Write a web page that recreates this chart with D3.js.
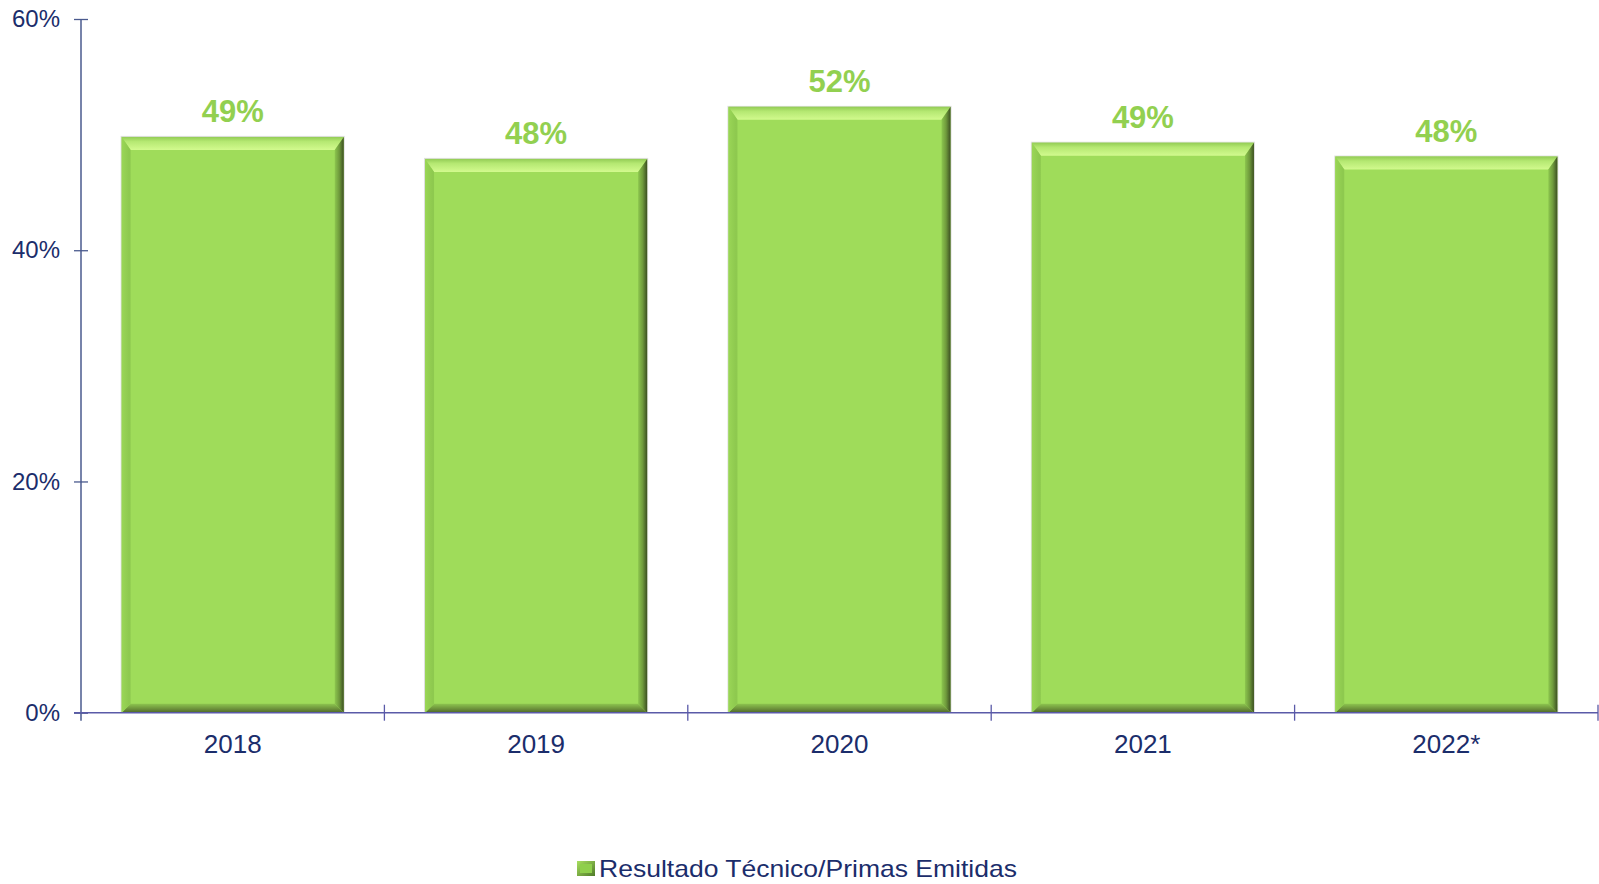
<!DOCTYPE html>
<html>
<head>
<meta charset="utf-8">
<script src="https://cdn.jsdelivr.net/npm/d3@7"></script>
<style>
  html, body { margin: 0; padding: 0; background: #fff; }
  svg { display: block; font-family: "Liberation Sans", Arial, sans-serif; }
</style>
</head>
<body>
<script>
// data
var years = ["2018", "2019", "2020", "2021", "2022*"];
var values = [49.8, 47.9, 52.4, 49.3, 48.1];
var valueLabels = ["49%", "48%", "52%", "49%", "48%"];
var yTicks = [0, 20, 40, 60];
var seriesName = "Resultado Técnico/Primas Emitidas";

var width = 1599, height = 884;
var margin = {top: 19, right: 1, bottom: 171, left: 81};

var svg = d3.select("body").append("svg")
    .attr("width", width)
    .attr("height", height);

var defs = svg.append("defs");

// bevel gradients
function grad(id, x2, y2, stops) {
    var g = defs.append("linearGradient").attr("id", id)
        .attr("x1", 0).attr("y1", 0).attr("x2", x2).attr("y2", y2);
    stops.forEach(function(s) {
        g.append("stop").attr("offset", s[0]).attr("stop-color", s[1]);
    });
}
grad("bevTop", 0, 1, [[0, "#93cc55"], [0.35, "#b5e872"], [1, "#d2fa8e"]]);
grad("bevRight", 1, 0, [[0, "#8cc64e"], [0.5, "#6f9a3c"], [1, "#3c4f22"]]);
grad("bevBottom", 0, 1, [[0, "#8dc54f"], [0.6, "#6b8f3a"], [1, "#4d6628"]]);
grad("bevLeft", 1, 0, [[0, "#9ad656"], [0.8, "#8ec94f"], [1, "#8ec94f"]]);
grad("legSw", 1, 1, [[0, "#a8e060"], [1, "#4f7a28"]]);

var x = d3.scaleBand()
    .domain(years)
    .range([margin.left, width - margin.right])
    .paddingInner(0.268)
    .paddingOuter(0.134);

var y = d3.scaleLinear()
    .domain([0, 60])
    .range([height - margin.bottom - 0.3, margin.top]);

var axisColor = "#5a5aa8";
var textColor = "#1b2d6b";

// bars
var bev = 13, side = 9;
var bar = svg.append("g").selectAll("g")
    .data(years)
    .enter().append("g")
    .attr("transform", function(d) { return "translate(" + x(d) + "," + y(values[years.indexOf(d)]) + ")"; });

bar.each(function(d, i) {
    var g = d3.select(this);
    var w = x.bandwidth();
    var h = y(0) - y(values[i]);
    // soft shadow
    g.append("rect")
        .attr("x", -1).attr("y", -1)
        .attr("width", w + 2).attr("height", h + 1)
        .attr("fill", "#c8c8c8").attr("opacity", 0.6);
    g.append("rect")
        .attr("width", w).attr("height", h)
        .attr("fill", "#9fdc5a");
    g.append("polygon")
        .attr("points", [[0, 0], [w, 0], [w - side, bev], [side, bev]].join(" "))
        .attr("fill", "url(#bevTop)");
    g.append("polygon")
        .attr("points", [[w, 0], [w, h], [w - side, h - side], [w - side, bev]].join(" "))
        .attr("fill", "url(#bevRight)");
    g.append("polygon")
        .attr("points", [[0, h], [w, h], [w - side, h - side], [side, h - side]].join(" "))
        .attr("fill", "url(#bevBottom)");
    g.append("polygon")
        .attr("points", [[0, 0], [side, bev], [side, h - side], [0, h]].join(" "))
        .attr("fill", "url(#bevLeft)");
});

// value labels
svg.append("g").selectAll("text")
    .data(years)
    .enter().append("text")
    .attr("x", function(d) { return x(d) + x.bandwidth() / 2; })
    .attr("y", function(d, i) { return y(values[i]) - 15; })
    .attr("text-anchor", "middle")
    .attr("font-size", 31)
    .attr("font-weight", "bold")
    .attr("fill", "#92d050")
    .text(function(d, i) { return valueLabels[i]; });

// y axis
var yAxis = svg.append("g")
    .attr("transform", "translate(" + margin.left + ",0)")
    .call(d3.axisLeft(y).tickValues(yTicks).tickSize(7).tickPadding(14)
        .tickFormat(function(d) { return d + "%"; }));
yAxis.select(".domain").remove();
yAxis.selectAll(".tick line").attr("x1", 7).attr("stroke", "#4a5a8e").attr("stroke-width", 1.3);
yAxis.selectAll(".tick text")
    .attr("font-size", 24).attr("fill", textColor)
    .attr("font-family", "Liberation Sans, Arial, sans-serif");
yAxis.append("line")
    .attr("x1", 0).attr("x2", 0)
    .attr("y1", y(60)).attr("y2", y(0) + 8)
    .attr("stroke", "#4a5a8e").attr("stroke-width", 1.5);

// x axis
var bounds = years.map(function(d) { return x(d) - x.step() * x.paddingInner() / 2; });
bounds[0] = margin.left;
bounds.push(width - margin.right);
var xAxis = svg.append("g");
xAxis.append("line")
    .attr("x1", margin.left - 7).attr("x2", width - margin.right)
    .attr("y1", y(0)).attr("y2", y(0))
    .attr("stroke", axisColor).attr("stroke-width", 1.5);
xAxis.selectAll(".xt")
    .data(bounds.slice(1))
    .enter().append("line")
    .attr("class", "xt")
    .attr("x1", function(d) { return d; }).attr("x2", function(d) { return d; })
    .attr("y1", y(0) - 8).attr("y2", y(0) + 8)
    .attr("stroke", axisColor).attr("stroke-width", 1.3);
xAxis.selectAll(".xl")
    .data(years)
    .enter().append("text")
    .attr("class", "xl")
    .attr("x", function(d) { return x(d) + x.bandwidth() / 2; })
    .attr("y", y(0) + 40)
    .attr("text-anchor", "middle")
    .attr("font-size", 26)
    .attr("fill", textColor)
    .text(function(d) { return d; });

// legend
var legend = svg.append("g").attr("transform", "translate(577,861)");
legend.append("rect")
    .attr("width", 18).attr("height", 15)
    .attr("fill", "url(#legSw)");
legend.append("rect")
    .attr("x", 3).attr("y", 3)
    .attr("width", 12).attr("height", 9)
    .attr("fill", "#8fcf4c");
legend.append("text")
    .attr("x", 22).attr("y", 16)
    .attr("font-size", 24)
    .attr("textLength", 418)
    .attr("lengthAdjust", "spacingAndGlyphs")
    .attr("fill", textColor)
    .text(seriesName);
</script>
</body>
</html>
